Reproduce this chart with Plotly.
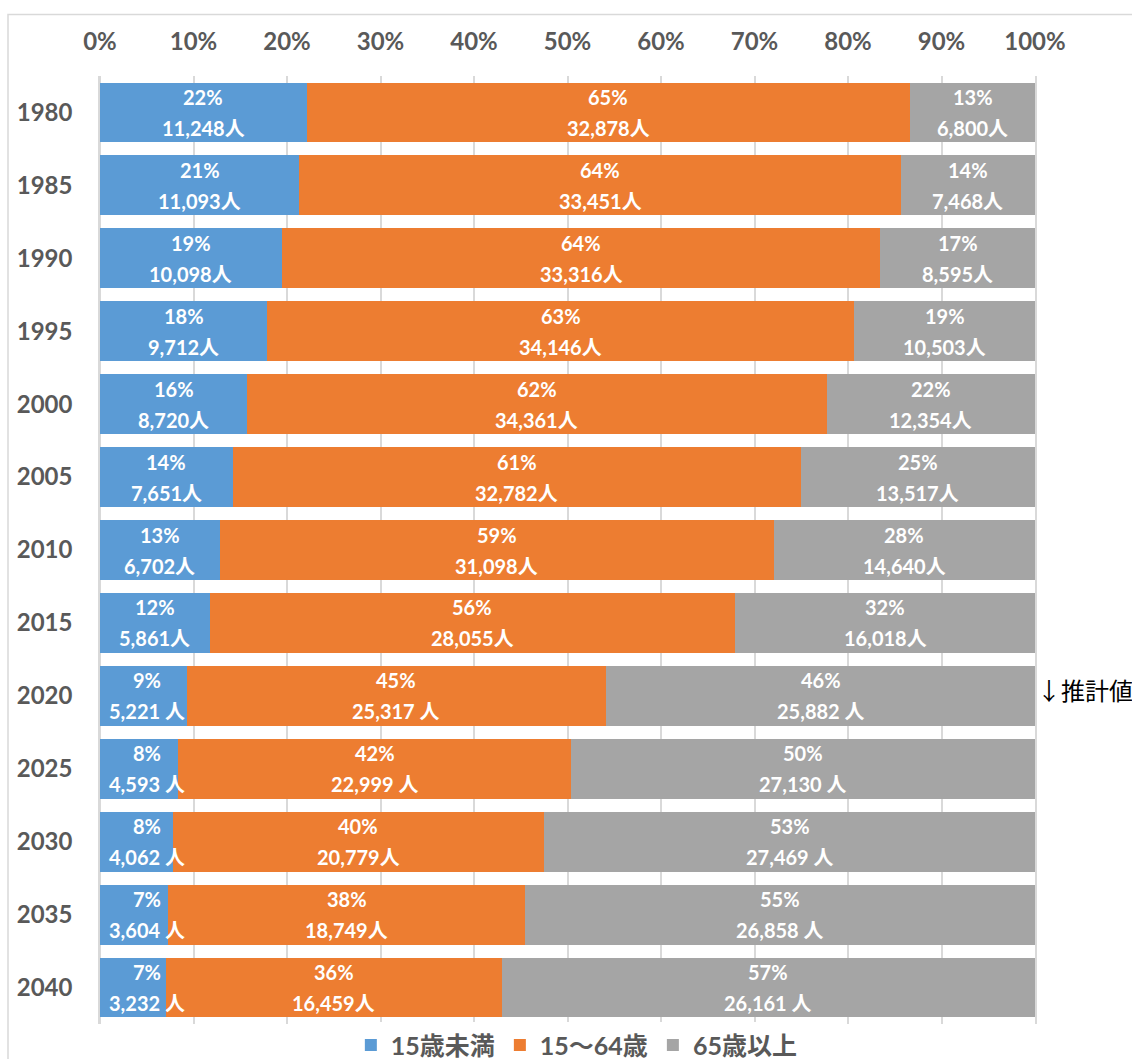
import plotly.graph_objects as go

years = ["1980", "1985", "1990", "1995", "2000", "2005", "2010",
         "2015", "2020", "2025", "2030", "2035", "2040"]
under15 = [11248, 11093, 10098, 9712, 8720, 7651, 6702, 5861, 5221, 4593, 4062, 3604, 3232]
working = [32878, 33451, 33316, 34146, 34361, 32782, 31098, 28055, 25317, 22999, 20779, 18749, 16459]
elderly = [6800, 7468, 8595, 10503, 12354, 13517, 14640, 16018, 25882, 27130, 27469, 26858, 26161]
under15_unit = ["人"] * 8 + [" 人"] * 5
working_unit = ["人"] * 8 + [" 人", " 人", "人", "人", "人"]
elderly_unit = ["人"] * 8 + [" 人"] * 5
series_names = ["15歳未満", "15～64歳", "65歳以上"]
x_ticks = [0, 10, 20, 30, 40, 50, 60, 70, 80, 90, 100]
note_text = "↓推計値"
note_year = "2020"

colors = ["#5B9BD5", "#ED7D31", "#A5A5A5"]
FONT = "Lato, 'Noto Sans CJK JP', sans-serif"
GREY_TXT = "#595959"
NARROW_SHARE = 10  # segments narrower than this keep their label box inside the plot

series = [under15, working, elderly]
units = [under15_unit, working_unit, elderly_unit]
totals = [a + b + c for a, b, c in zip(under15, working, elderly)]
shares = [[v / t * 100 for v, t in zip(s, totals)] for s in series]

fig = go.Figure()
for name, sh, col in zip(series_names, shares, colors):
    fig.add_trace(go.Bar(
        y=years, x=sh, name=name, orientation="h",
        marker=dict(color=col, line=dict(width=0)),
        hoverinfo="skip",
    ))

annotations = []
for i, y in enumerate(years):
    start = 0.0
    for s_idx in range(3):
        sh = shares[s_idx][i]
        cx = start + sh / 2
        pct = f"{int(sh + 0.5)}%"
        cnt = f"{series[s_idx][i]:,}{units[s_idx][i]}"
        clamp = (s_idx == 0 and sh < NARROW_SHARE)
        for txt, ys in ((pct, 15.5), (cnt, -15.5)):
            ann = dict(
                x=cx, y=i, xref="x", yref="y", text=txt, showarrow=False,
                xanchor="center", yanchor="middle", yshift=ys,
                font=dict(family=FONT, size=20, color="white", weight="bold"),
            )
            if clamp:
                ann.update(x=start, xanchor="left", xshift=3, width=84,
                           align="center")
            annotations.append(ann)
        start += sh

annotations.append(dict(
    x=1, y=years.index(note_year), xref="paper", yref="y", text=note_text,
    showarrow=False, xanchor="left", yanchor="middle", xshift=0, yshift=6,
    font=dict(family="'Noto Sans CJK JP', sans-serif", size=24, color="black"),
))

fig.update_layout(
    barmode="stack",
    bargap=0.18,
    width=1132, height=1059,
    margin=dict(l=100, r=97, t=76, b=35, pad=0, autoexpand=False),
    paper_bgcolor="white", plot_bgcolor="white",
    font=dict(family=FONT, color=GREY_TXT),
    annotations=annotations,
    legend=dict(
        orientation="h", x=0.51, xanchor="center",
        yref="container", y=0.013, yanchor="middle",
        font=dict(family=FONT, size=25, color=GREY_TXT, weight="bold"),
        itemwidth=30, traceorder="normal",
    ),
    shapes=[dict(
        type="rect", xref="paper", yref="paper",
        x0=-0.0984, x1=1.3, y0=-0.3, y1=1.0649,
        line=dict(color="#d9d9d9", width=1.5), fillcolor="rgba(0,0,0,0)",
        layer="below",
    )],
)
fig.update_xaxes(
    side="top", range=[0, 100], tickvals=x_ticks,
    ticktext=[f"{t}%" for t in x_ticks],
    showgrid=True, gridcolor="#d9d9d9", gridwidth=1.5,
    zeroline=True, zerolinecolor="#d9d9d9", zerolinewidth=1.5,
    showline=False, ticks="", ticklabelstandoff=20,
    tickfont=dict(family=FONT, size=24, color=GREY_TXT, weight="bold"),
    fixedrange=True, automargin=False,
)
fig.update_yaxes(
    type="category", categoryorder="array", categoryarray=years,
    range=[len(years) - 0.5, -0.5], autorange=False,
    showgrid=False, zeroline=False,
    showline=True, mirror=True, linecolor="#d9d9d9", linewidth=1.5,
    layer="below traces", ticks="",
    ticklabelstandoff=21,
    tickfont=dict(family=FONT, size=24, color=GREY_TXT, weight="bold"),
    fixedrange=True, automargin=False,
)

fig.write_html("out.html")
